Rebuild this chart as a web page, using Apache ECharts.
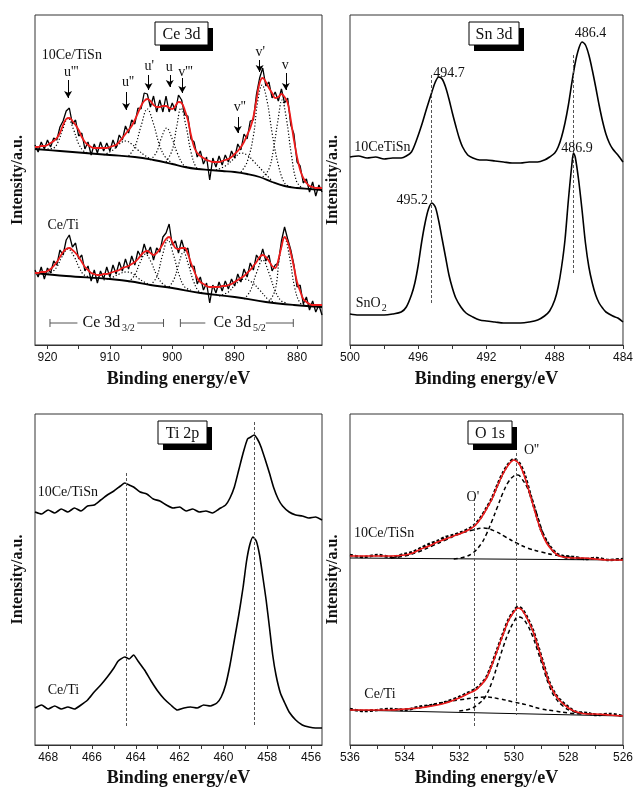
<!DOCTYPE html>
<html><head><meta charset="utf-8">
<script src="https://cdn.jsdelivr.net/npm/echarts@6.0.0/dist/echarts.min.js"></script>
<style>html,body{margin:0;padding:0;background:#fff}#c{width:636px;height:789px}</style>
</head><body><div id="c"></div>
<script>
// ---------------- DATA ----------------
// Ce 3d (binding energy grid, eV)
const ceE = [922,921.5,921,920.5,920,919.5,919,918.5,918,917.5,917,916.5,916,915.5,915,914.5,914,913.5,913,912.5,912,911.5,911,910.5,910,909.5,909,908.5,908,907.5,907,906.5,906,905.5,905,904.5,904,903.5,903,902.5,902,901.5,901,900.5,900,899.5,899,898.5,898,897.5,897,896.5,896,895.5,895,894.5,894,893.5,893,892.5,892,891.5,891,890.5,890,889.5,889,888.5,888,887.5,887,886.5,886,885.5,885,884.5,884,883.5,883,882.5,882,881.5,881,880.5,880,879.5,879,878.5,878,877.5,877,876.5,876];
const ceRawA = [200,193,203,196,205,198,207,205,218,224,234,237,221,225,209,212,196,203,190,201,192,203,194,202,194,205,197,210,205,219,212,225,221,237,236,252,251,238,249,233,245,233,249,233,242,234,250,245,230,229,206,203,188,194,181,188,165,187,178,189,180,190,183,194,187,201,195,211,206,224,225,251,267,277,259,263,247,253,244,256,242,247,220,211,183,179,162,166,153,163,149,160,153];
const ceFitA = [198,198,199,199,200,202,204,207,212,220,226,227,224,220,215,208,203,200,198,197,197,197,197,197,198,199,200,203,207,211,215,219,225,232,239,244,246,244,240,238,238,239,239,237,236,239,243,242,235,225,210,198,192,189,187,185,184,183,183,183,184,185,186,188,191,194,198,203,210,217,228,245,262,267,263,257,252,247,248,251,248,242,225,205,188,175,167,162,159,158,157,157,157];
const ceRawB = [75,68,78,66,77,72,84,80,95,90,105,110,98,102,86,90,74,79,64,75,62,74,66,78,68,80,71,83,74,86,76,89,80,94,88,101,91,98,85,97,93,108,112,121,100,104,92,105,94,97,78,79,61,68,55,62,42,60,52,63,54,64,56,66,59,71,63,76,68,82,75,90,85,96,84,90,74,80,82,104,118,106,95,80,58,60,41,48,35,44,33,40,30];
const ceFitB = [72,72,73,73,74,76,79,83,88,93,96,97,95,92,88,83,78,75,72,71,70,70,71,71,72,73,74,75,77,78,79,81,83,86,90,93,94,92,90,92,96,101,106,108,103,97,96,97,97,91,82,74,67,63,61,59,58,58,58,58,59,59,60,61,63,65,67,69,72,75,79,83,88,90,88,84,79,77,85,98,108,103,92,78,63,54,46,43,41,40,40,40,40];
const ceBgA = [[922,196],[918,194],[914,192],[910,190],[906,188],[903,185],[900,181],[898,178],[896,176],[894,175],[892,174],[890,173],[888,171],[886,168],[884,163],[882,159],[880,157],[878,156],[876,155]];
const ceBgB = [[922,72],[917,69],[910,66],[906,63],[903.5,60],[900,57],[895.5,52],[890,48],[885,43],[880.5,40],[876,38]];
const ceCompA = [
 [[920,196],[919,197],[918.3,203],[917.6,215],[916.7,227],[915.8,215],[915,201],[914.2,194],[913.5,192]],
 [[911,190],[909.5,195],[908.5,201],[907.5,204],[906.5,201],[905.5,195],[904.5,190],[903.5,186]],
 [[907,189],[906,198],[905,219],[904,236],[903,221],[902,199],[901,187],[900,182]],
 [[903.5,185],[902.5,193],[901.8,206],[900.9,217],[900,206],[899.2,192],[898.2,180],[897.5,178]],
 [[901,183],[900,195],[899.3,218],[898.6,237],[897.8,219],[897,193],[896.2,178],[895.5,176]],
 [[893,175],[891.5,179],[890,187],[889,192],[888,190],[887,184],[885.5,174],[884,164]],
 [[889,173],[888,183],[887,209],[886.3,244],[885.6,260],[884.8,244],[884,212],[883,180],[882,162],[881,158]],
 [[885.5,168],[884.5,176],[883.8,195],[883.1,223],[882.4,245],[881.7,226],[880.9,190],[880.1,164],[879.2,157]]
];
const ceCompB = [
 [[920,72],[919.3,73],[918.5,78],[917.7,88],[916.7,96],[915.7,88],[914.9,77],[914.1,70],[913,68]],
 [[911,65],[909.5,68],[908.5,71],[907.5,73],[906.5,72],[905.5,67],[904.5,63],[903.5,60]],
 [[907,63],[906,70],[905.2,82],[904.3,91],[903.4,83],[902.5,70],[901.5,61],[900.5,58]],
 [[903.5,60],[902.5,68],[901.6,89],[900.7,105],[899.8,90],[898.9,70],[898,58],[897,55]],
 [[900.5,58],[899.7,66],[899,80],[898.2,93],[897.4,80],[896.6,64],[895.8,54],[895,52]],
 [[892.5,49],[891,53],[889.8,61],[888.5,66],[887.3,63],[886,55],[884.5,45],[883.5,43]],
 [[888.5,46],[887.5,54],[886.5,72],[885.5,85],[884.5,72],[883.5,54],[882.5,44],[881.5,42]],
 [[884.5,43],[883.5,55],[882.8,88],[882,107],[881.2,88],[880.4,58],[879.5,42],[878.5,40]]
];
// Sn 3d
const snE1 = [500,499.5,499,498.5,498,497.5,497,496.7,496.4,496.1,495.8,495.5,495.2,495,494.8,494.6,494.4,494.2,494,493.8,493.6,493.4,493.1,492.8,492.4,492,491.5,491,490.5,490,489.5,489,488.6,488.3,488,487.8,487.6,487.4,487.2,487,486.8,486.6,486.4,486.2,486,485.8,485.6,485.4,485.2,485,484.8,484.6,484.3,484];
const snI1 = [188,189,187,188,186,187,187,189,193,205,220,237,253,263,268,266,258,246,232,219,207,198,190,187,185,185,184,183,182,182,183,183,185,188,192,198,208,222,240,262,282,296,303,300,290,275,258,240,224,211,202,196,190,183];
const snE2 = [500,499.5,499,498.5,498,497.5,497,496.7,496.4,496.2,496,495.8,495.6,495.4,495.2,495,494.8,494.6,494.4,494.2,494,493.8,493.5,493.2,492.8,492.4,492,491.5,491,490.5,490,489.5,489,488.6,488.3,488,487.8,487.6,487.4,487.2,487,486.9,486.8,486.6,486.4,486.2,486,485.8,485.6,485.4,485.2,485,484.6,484.3,484];
const snI2 = [31,30,30,30,30,31,33,38,50,62,80,103,122,136,142,138,124,106,88,70,57,47,38,32,28,25,24,23,22,22,22,23,25,29,34,45,58,78,105,145,180,192,188,165,135,102,78,62,50,42,37,33,29,27,23];
// Ti 2p
const tiE1 = [468.6,468.3,468,467.7,467.4,467.1,466.8,466.5,466.2,465.9,465.6,465.3,465,464.7,464.5,464.3,464.1,463.8,463.5,463.2,462.9,462.6,462.3,462,461.7,461.4,461.1,460.8,460.5,460.2,459.9,459.7,459.5,459.3,459.1,458.9,458.75,458.6,458.45,458.3,458.1,457.9,457.7,457.5,457.3,457,456.7,456.4,456.1,455.8,455.5];
const tiI1 = [233,231,235,232,236,233,237,234,239,240,245,250,254,259,262,260,258,253,251,246,244,240,237,238,234,236,233,234,232,236,240,247,258,275,292,306,308,310,306,299,286,272,257,246,239,233,230,229,227,228,225];
const tiE2 = [468.6,468.3,468,467.7,467.4,467.1,466.8,466.5,466.2,465.9,465.6,465.3,465,464.8,464.5,464.3,464.1,463.9,463.6,463.3,463,462.7,462.4,462.1,461.8,461.5,461.2,460.9,460.6,460.3,460.1,459.9,459.7,459.5,459.3,459.1,458.95,458.8,458.65,458.5,458.35,458.2,458.05,457.9,457.75,457.6,457.4,457.2,457,456.7,456.4,456.1,455.8,455.5];
const tiI2 = [37,40,36,39,36,38,36,40,45,53,60,68,77,84,88,86,90,84,75,64,54,46,40,35,37,38,37,40,39,42,48,60,80,105,130,158,183,200,208,204,190,168,145,118,90,70,52,42,33,25,20,18,17,17];
// O 1s
const oE1 = [536,535.5,535,534.5,534,533.7,533.4,533.1,532.8,532.5,532.2,531.9,531.6,531.4,531.2,531,530.8,530.6,530.4,530.2,530,529.8,529.6,529.4,529.2,529,528.8,528.6,528.4,528.2,527.8,527.4,527,526.5,526];
const oFit1 = [189,189,189,189,190,192,196,199,203,206,209,212,216,220,227,236,246,259,271,280,285,281,268,250,231,214,202,195,190,188,187,187,186,185,185];
const oRaw1 = [190,188,190,188,191,193,197,201,204,208,210,213,217,221,228,237,247,260,272,281,286,282,270,251,233,215,204,196,191,189,188,186,187,185,186];
const oE2 = [536,535.5,535,534.5,534,533.5,533,532.5,532,531.7,531.4,531.2,531,530.8,530.6,530.4,530.2,530,529.85,529.7,529.5,529.3,529.1,528.9,528.7,528.5,528.3,528,527.7,527.3,527,526.5,526];
const oFit2 = [35,35,35,35,36,37,39,42,47,51,55,60,67,80,95,110,124,133,137,135,126,114,97,79,62,51,44,37,33,31,31,30,29];
const oRaw2 = [36,34,35,36,35,38,40,43,48,52,56,61,68,81,96,111,125,134,138,136,127,115,98,80,63,52,45,38,33,32,30,31,29];
const oBase1 = [[536,187],[526,185]];
const oBase2 = [[536,35],[526,29]];
const oCompA1 = [[534.5,187],[534,189],[533.5,193],[533,199],[532.5,205],[532,211],[531.5,215],[531.1,217],[530.7,214],[530.3,208],[529.9,202],[529.5,197],[529,193],[528.5,190],[528,188],[527.5,187]];
const oCompB1 = [[532.2,186],[531.8,188],[531.5,192],[531.2,201],[531,211],[530.8,224],[530.6,238],[530.4,252],[530.2,263],[530,269],[529.85,270],[529.7,266],[529.5,257],[529.3,243],[529.1,226],[528.9,210],[528.7,199],[528.5,192],[528.2,188],[527.8,186],[527.3,186]];
const oCompA2 = [[534.5,35],[534,36],[533.5,37],[533,40],[532.5,43],[532,45],[531.5,47],[531,48],[530.5,46],[530,43],[529.5,40],[529,36],[528.5,34],[528,32],[527.5,31]];
const oCompB2 = [[532,34],[531.6,36],[531.3,41],[531.05,48],[530.8,63],[530.6,80],[530.4,97],[530.2,112],[530,123],[529.85,128],[529.7,127],[529.5,120],[529.3,108],[529.1,92],[528.9,75],[528.7,59],[528.5,48],[528.2,39],[527.9,34],[527.5,32],[527,31]];

// axis ranges / tick values
const xMin = [876, 484, 455.5, 526];
const xMax = [922, 500, 468.6, 536];
const xTicks = [[920,915,910,905,900,895,890,885,880],[500,498,496,494,492,490,488,486,484],[468,467,466,465,464,463,462,461,460,459,458,457,456],[536,535,534,533,532,531,530,529,528,527,526]];
const xLabels = [[920,910,900,890,880],[500,496,492,488,484],[468,466,464,462,460,458,456],[536,534,532,530,528,526]];

// annotations (data coords)
const vLines = [{g:1,E:495.25,a:270,b:40},{g:1,E:486.9,a:290,b:70},{g:2,E:464.45,a:272,b:18},{g:2,E:458.6,a:323,b:20},{g:3,E:531.45,a:247,b:17},{g:3,E:529.9,a:292,b:30}];
const arrows = [{t:"u'''",E:916.7,a:265,b:247,ty:273},{t:"u''",E:907.4,a:253,b:235,ty:263},{t:"u'",E:903.8,a:270,b:255,ty:279},{t:"u",E:900.4,a:270,b:258,ty:278},{t:"v'''",E:898.4,a:267,b:252,ty:273},{t:"v''",E:889.5,a:228,b:212,ty:238},{t:"v'",E:886.0,a:285,b:273,ty:293},{t:"v",E:881.8,a:272,b:255,ty:280}];
const labels = [
 {g:0,E:916.1,v:290,t:'10Ce/TiSn'},{g:0,E:917.5,v:120,t:'Ce/Ti'},
 {g:1,E:494.2,v:272,t:'494.7'},{g:1,E:485.9,v:312,t:'486.4'},{g:1,E:486.7,v:197,t:'486.9'},{g:1,E:496.35,v:145,t:'495.2'},{g:1,E:498.1,v:198,t:'10CeTiSn'},
 {g:2,E:467.1,v:253,t:'10Ce/TiSn'},{g:2,E:467.3,v:55,t:'Ce/Ti'},
 {g:3,E:531.5,v:248,t:"O'"},{g:3,E:529.35,v:295,t:"O''"},{g:3,E:534.75,v:212,t:'10Ce/TiSn'},{g:3,E:534.9,v:51,t:'Ce/Ti'}
];
const titles = [{t:'Ce 3d',x:155,y:22,w:53,h:23},{t:'Sn 3d',x:469,y:22,w:50,h:23},{t:'Ti 2p',x:158,y:421,w:49,h:23},{t:'O 1s',x:468,y:421,w:44,h:23}];

// ---------------- CHART ----------------
const SERIF = '"Liberation Serif","Times New Roman",serif';
const SANS = '"Liberation Sans",Arial,sans-serif';
const grids = [[35,15,287,330],[350,15,276,330],[35,414,287,331],[350,414,277,331]];
const yMax = [330,330,331,331];
const zip = (xs, ys) => xs.map((x,i)=>[x, ys[i]]);
function ln(g, data, c, w, t, smooth, z, extra){
  return Object.assign({type:'line', xAxisIndex:g, yAxisIndex:g, data:data, showSymbol:false, symbol:'none',
    silent:true, animation:false, smooth:smooth, z:z||2, lineStyle:{color:c, width:w, type:t||'solid'}}, extra||{});
}
const series = [];
// Ce 3d
series.push(ln(0, zip(ceE, ceRawA), '#000', 1.3, 'solid', false, 2));
series.push(ln(0, zip(ceE, ceRawB), '#000', 1.3, 'solid', false, 2));
ceCompA.concat(ceCompB).forEach(c => series.push(ln(0, c, '#000', 1.2, [1.2,2], 0.4, 3)));
series.push(ln(0, ceBgA, '#000', 1.8, 'solid', 0.4, 4));
series.push(ln(0, ceBgB, '#000', 1.8, 'solid', 0.4, 4, {
  markLine:{silent:true, animation:false, symbol:['none','arrow'], symbolSize:[6,7], label:{show:false},
    lineStyle:{color:'#000', width:1, type:'solid'},
    data: arrows.map(a => [{coord:[a.E,a.a]},{coord:[a.E,a.b]}])}
}));
series.push(ln(0, zip(ceE, ceFitA), '#ee1c1c', 1.8, 'solid', 0.4, 5));
series.push(ln(0, zip(ceE, ceFitB), '#ee1c1c', 1.8, 'solid', 0.4, 5));
// Sn 3d
series.push(ln(1, zip(snE1, snI1), '#000', 1.6, 'solid', 0.3, 3));
series.push(ln(1, zip(snE2, snI2), '#000', 1.6, 'solid', 0.3, 3));
// Ti 2p
series.push(ln(2, zip(tiE1, tiI1), '#000', 1.6, 'solid', 0.2, 3));
series.push(ln(2, zip(tiE2, tiI2), '#000', 1.6, 'solid', 0.2, 3));
// O 1s
series.push(ln(3, oBase1, '#000', 1.2, 'solid', false, 2));
series.push(ln(3, oBase2, '#000', 1.2, 'solid', false, 2));
series.push(ln(3, zip(oE1, oRaw1), '#000', 2.6, [3,2], 0.3, 3));
series.push(ln(3, zip(oE2, oRaw2), '#000', 2.6, [3,2], 0.3, 3));
[oCompA1,oCompB1,oCompA2,oCompB2].forEach(c => series.push(ln(3, c, '#000', 1.5, [4,3], 0.4, 4)));
series.push(ln(3, zip(oE1, oFit1), '#ee1c1c', 1.6, 'solid', 0.3, 5));
series.push(ln(3, zip(oE2, oFit2), '#ee1c1c', 1.6, 'solid', 0.3, 5));
// vertical dashed guide lines
[0,1,2,3].forEach(g => {
  const d = vLines.filter(v => v.g === g).map(v => [{coord:[v.E,v.a]},{coord:[v.E,v.b]}]);
  if (!d.length) return;
  series.push(ln(g, [], '#000', 1, 'solid', false, 1, {markLine:{silent:true, animation:false, symbol:['none','none'], label:{show:false},
    lineStyle:{color:'#555', width:1, type:[3,2]}, data:d}}));
});

const option = {
  animation:false, backgroundColor:'#fff',
  grid: grids.map(g => ({left:g[0], top:g[1], width:g[2], height:g[3], show:true, borderColor:'#333', borderWidth:1, backgroundColor:'transparent'})),
  xAxis: grids.map((g,i) => ({type:'value', gridIndex:i, min:xMin[i], max:xMax[i], inverse:true,
    axisLine:{show:true, onZero:false, lineStyle:{color:'#333', width:1}},
    axisTick:{show:true, customValues:xTicks[i], length:4, inside:false, lineStyle:{color:'#333'}},
    axisLabel:{show:true, customValues:xLabels[i], fontFamily:SANS, fontSize:12, color:'#111', margin:7},
    splitLine:{show:false},
    name:'Binding energy/eV', nameLocation:'middle', nameGap:(i<2?25:24),
    nameTextStyle:{fontFamily:SERIF, fontWeight:'bold', fontSize:18, color:'#111'}})),
  yAxis: grids.map((g,i) => ({type:'value', gridIndex:i, min:0, max:yMax[i],
    axisLine:{show:false}, axisTick:{show:false}, axisLabel:{show:false}, splitLine:{show:false},
    name:'Intensity/a.u.', nameLocation:'middle', nameGap:9,
    nameTextStyle:{fontFamily:SERIF, fontWeight:'bold', fontSize:16, color:'#111'}})),
  series: series
};
const chart = echarts.init(document.getElementById('c'), null, {renderer:'canvas'});
chart.setOption(option);

// ---------- annotations (graphic) ----------
const P = (g, E, v) => chart.convertToPixel({gridIndex:g}, [E, v]);
const gfx = [];
function txt(x, y, t, size, align, extra){
  gfx.push(Object.assign({type:'text', x:x, y:y, z:100, silent:true,
    style:{text:t, fill:'#111', font:size+'px '+SERIF, align:align||'center', verticalAlign:'middle', textAlign:align||'center', textVerticalAlign:'middle'}}, extra||{}));
}
labels.forEach(l => { const p = P(l.g, l.E, l.v); txt(p[0], p[1], l.t, 14, 'center'); });
// subscript for SnO2
(function(){ const p = P(1, 498.7, 42); txt(p[0]-4, p[1], 'SnO', 14, 'center'); txt(p[0]+12, p[1]+5, '2', 10, 'center'); })();
arrows.forEach(a => { const p = P(0, a.E, a.ty); txt(p[0]-4, p[1], a.t, 14, 'left'); });
// brackets Ce 3d3/2 and Ce 3d5/2
function bracket(e1, g1, g2, e2, cE, sub){
  const y = P(0, 900, 22)[1];
  const x1 = P(0,e1,22)[0], xg1 = P(0,g1,22)[0], xg2 = P(0,g2,22)[0], x2 = P(0,e2,22)[0], xc = P(0,cE,22)[0];
  const ls = {stroke:'#555', lineWidth:1};
  gfx.push({type:'line', silent:true, z:100, shape:{x1:x1, y1:y, x2:xg1, y2:y}, style:ls});
  gfx.push({type:'line', silent:true, z:100, shape:{x1:xg2, y1:y, x2:x2, y2:y}, style:ls});
  gfx.push({type:'line', silent:true, z:100, shape:{x1:x1, y1:y-4, x2:x1, y2:y+4}, style:ls});
  gfx.push({type:'line', silent:true, z:100, shape:{x1:x2, y1:y-4, x2:x2, y2:y+4}, style:ls});
  txt(xc-6, y, 'Ce 3d', 16, 'center');
  txt(xc+21, y+5, sub, 10, 'center');
}
bracket(919.6, 915.2, 905.6, 901.4, 910.4, '3/2');
bracket(898.7, 894.7, 885.0, 880.6, 889.4, '5/2');
// title boxes with hard shadow
titles.forEach(b => {
  gfx.push({type:'rect', silent:true, z:100, shape:{x:b.x+5, y:b.y+6, width:b.w, height:b.h}, style:{fill:'#000'}});
  gfx.push({type:'rect', silent:true, z:101, shape:{x:b.x, y:b.y, width:b.w, height:b.h}, style:{fill:'#fff', stroke:'#000', lineWidth:1}});
  txt(b.x + b.w/2, b.y + b.h/2 + 1, b.t, 16, 'center', {z:102});
});
chart.setOption({graphic:{elements:gfx}});
</script></body></html>
